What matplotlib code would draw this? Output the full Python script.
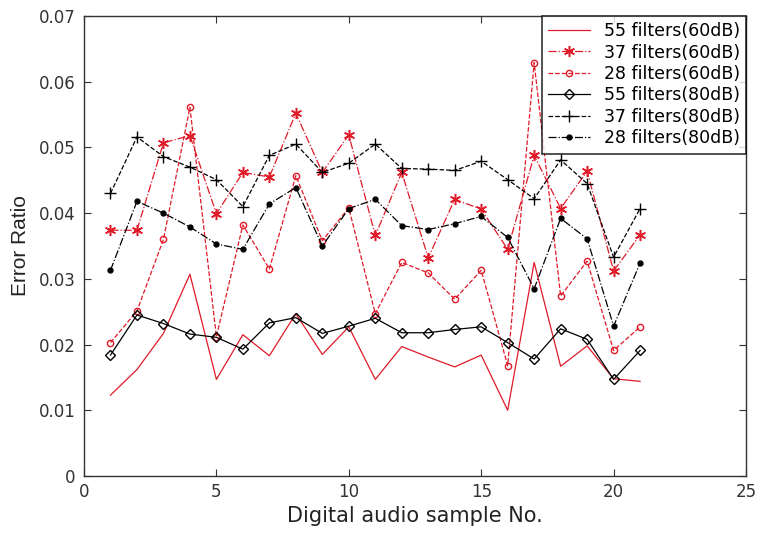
import matplotlib
matplotlib.use("Agg")
import matplotlib.pyplot as plt

plt.rcParams['font.family'] = ['DejaVu Sans']

samples = list(range(1, 22))

f55_60 = [0.0123, 0.0162, 0.0217, 0.0307, 0.0147, 0.0215, 0.0183, 0.0247, 0.0185, 0.0227,
          0.0147, 0.0197, 0.0181, 0.0166, 0.0184, 0.0100, 0.0325, 0.0167, 0.0198, 0.0148, 0.0144]
f37_60 = [0.0374, 0.0374, 0.0507, 0.0518, 0.0399, 0.0462, 0.0455, 0.0552, 0.0462, 0.0519,
          0.0366, 0.0462, 0.0332, 0.0421, 0.0406, 0.0345, 0.0488, 0.0407, 0.0464, 0.0312, 0.0367]
f28_60 = [0.0203, 0.0251, 0.0360, 0.0561, 0.0212, 0.0382, 0.0315, 0.0457, 0.0358, 0.0408,
          0.0247, 0.0325, 0.0309, 0.0269, 0.0313, 0.0168, 0.0629, 0.0274, 0.0327, 0.0191, 0.0227]
f55_80 = [0.0184, 0.0245, 0.0232, 0.0216, 0.0211, 0.0193, 0.0233, 0.0241, 0.0217, 0.0228,
          0.0240, 0.0218, 0.0218, 0.0223, 0.0227, 0.0203, 0.0178, 0.0224, 0.0208, 0.0147, 0.0191]
f37_80 = [0.0430, 0.0516, 0.0486, 0.0470, 0.0451, 0.0410, 0.0488, 0.0505, 0.0462, 0.0476,
          0.0505, 0.0468, 0.0467, 0.0465, 0.0479, 0.0451, 0.0422, 0.0481, 0.0445, 0.0333, 0.0407]
f28_80 = [0.0313, 0.0418, 0.0400, 0.0379, 0.0353, 0.0345, 0.0414, 0.0439, 0.0350, 0.0407,
          0.0421, 0.0381, 0.0375, 0.0384, 0.0395, 0.0363, 0.0285, 0.0392, 0.0361, 0.0228, 0.0324]

labels = ['55 filters(60dB)', '37 filters(60dB)', '28 filters(60dB)',
          '55 filters(80dB)', '37 filters(80dB)', '28 filters(80dB)']

fig = plt.figure(figsize=(7.57, 5.34), dpi=100)
ax = fig.add_axes([84 / 757, 58 / 534, 662 / 757, 460 / 534])

red = '#e01a28'
ax.plot(samples, f55_60, '-', color=red, lw=0.9, label=labels[0])
ax.plot(samples, f37_60, '-.', color=red, lw=0.9, marker=(6, 2, 0), ms=8, mew=1.1, label=labels[1])
ax.plot(samples, f28_60, '--', color=red, lw=0.9, marker='o', ms=4.5, mfc='none', label=labels[2])
ax.plot(samples, f55_80, '-', color='black', lw=0.9, marker='D', ms=5, mfc='none', label=labels[3])
ax.plot(samples, f37_80, '--', color='black', lw=0.9, marker='+', ms=9, mew=1.0, label=labels[4])
ax.plot(samples, f28_80, '-.', color='black', lw=0.9, marker='.', ms=7, label=labels[5])

ax.set_xlim(0, 25)
ax.set_ylim(0, 0.07)
ax.set_xticks([0, 5, 10, 15, 20, 25])
ax.set_yticks([0, 0.01, 0.02, 0.03, 0.04, 0.05, 0.06, 0.07])
ax.set_yticklabels(['0', '0.01', '0.02', '0.03', '0.04', '0.05', '0.06', '0.07'])
ax.tick_params(direction='in', top=True, right=True, labelsize=12, length=5, width=0.8, colors='#333333')
ax.tick_params(axis='y', pad=6)
ax.tick_params(axis='x', pad=5)
for s in ax.spines.values():
    s.set_linewidth(1.0)
    s.set_color('#333333')

ax.set_xlabel('Digital audio sample No.', fontsize=15, color='#222222', labelpad=4)
ax.set_ylabel('Error Ratio', fontsize=15, color='#222222', labelpad=6,
              family=['Liberation Sans', 'DejaVu Sans'])

leg = ax.legend(loc='upper right', fontsize=12.5, frameon=True, fancybox=False,
                borderaxespad=0, handlelength=2.4, labelspacing=0.2,
                borderpad=0.35, handletextpad=0.8)
leg.get_frame().set_edgecolor('black')
leg.get_frame().set_linewidth(1.2)

fig.savefig('out.png', dpi=100)
